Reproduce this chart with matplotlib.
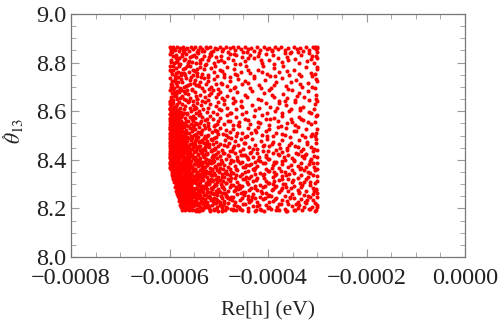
import matplotlib
matplotlib.use("Agg")
import matplotlib.pyplot as plt
from matplotlib.ticker import MultipleLocator, FixedLocator, FixedFormatter

# ---- data: points as (Re[h] in micro-eV, theta13 in thousandths of a degree above 8) ----
pts_top = [
    (-599,864),(-596,858),(-592,865),(-588,852),(-585,863),(-581,847),(-578,860),(-594,842),
    (-573,865),(-569,856),(-565,862),(-560,849),(-556,864),(-552,858),(-571,843),
    (-548,863),(-543,851),(-539,865),(-534,858),(-529,846),(-526,864),
    (-523,860),(-518,865),(-512,848),(-507,862),(-503,854),(-515,842),
    (-497,864),(-491,856),(-486,865),(-481,845),(-477,861),
    (-472,863),(-466,851),(-461,865),(-455,858),(-451,844),
    (-447,865),(-440,856),(-434,862),(-428,847),
    (-423,864),(-416,852),(-409,865),(-403,858),
    (-398,862),(-391,848),(-385,865),(-379,857),
    (-373,864),(-366,853),(-360,860),(-354,845),
    (-348,865),(-341,856),(-335,862),(-329,849),
    (-323,863),(-316,852),(-309,865),(-304,860),(-301,866),(-303,856),
]
pts_790_840 = [
    (-599,835),(-596,812),(-593,826),(-590,798),(-587,831),(-584,806),(-581,820),(-578,794),(-597,801),(-586,817),
    (-574,828),(-570,809),(-566,836),(-562,797),(-558,821),(-554,804),(-551,832),(-568,815),
    (-547,823),(-542,838),(-538,800),(-533,814),(-529,829),(-526,795),
    (-522,811),(-516,833),(-510,797),(-505,822),(-501,806),
    (-496,829),(-489,801),(-482,817),(-477,837),
    (-471,812),(-464,830),(-457,795),(-452,821),
    (-446,805),(-437,833),(-429,818),
    (-421,826),(-413,799),(-405,836),
    (-397,809),(-389,831),(-380,818),
    (-371,802),(-362,825),(-355,839),
    (-345,815),(-333,832),
    (-321,807),(-311,828),(-301,818),
]
pts_740_790 = [
    (-598,786),(-595,752),(-592,771),(-589,744),(-586,779),(-583,760),(-580,788),(-577,747),(-596,766),(-584,741),
    (-573,775),(-569,749),(-565,784),(-561,761),(-557,742),(-553,770),(-571,757),(-559,787),
    (-548,766),(-544,745),(-539,781),(-534,755),(-530,772),(-527,789),
    (-521,750),(-515,777),(-509,763),(-503,744),(-507,786),
    (-497,768),(-490,752),(-484,783),(-478,741),
    (-470,775),(-462,747),(-454,763),
    (-445,785),(-437,758),(-428,743),
    (-420,771),(-411,788),(-403,754),
    (-396,746),(-387,779),(-378,762),
    (-369,785),(-358,751),
    (-347,769),(-334,744),
    (-322,781),(-312,756),(-301,772),
]
pts_690_740 = [
    (-599,737),(-597,712),(-594,726),(-591,695),(-588,731),(-585,705),(-582,719),(-579,692),(-576,733),(-596,700),(-587,715),
    (-574,722),(-570,698),(-566,735),(-562,709),(-558,727),(-554,693),(-551,716),(-567,703),
    (-548,730),(-543,706),(-538,721),(-533,694),(-529,738),(-526,712),
    (-521,725),(-515,699),(-510,734),(-505,710),(-501,691),
    (-496,718),(-489,739),(-483,702),(-477,726),
    (-470,697),(-461,731),(-453,713),
    (-446,724),(-436,694),(-428,736),
    (-418,709),(-407,729),
    (-394,696),(-383,722),
    (-372,735),(-363,704),(-354,719),
    (-344,727),(-331,698),
    (-319,714),(-302,733),
]
pts_640_690 = [
    (-599,686),(-597,658),(-595,673),(-592,645),(-590,681),(-587,662),(-584,649),(-581,677),(-578,655),(-576,688),(-598,641),(-586,669),
    (-574,664),(-571,683),(-567,648),(-563,671),(-559,656),(-555,687),(-552,643),(-569,676),(-561,641),
    (-548,679),(-544,652),(-539,667),(-534,644),(-530,685),(-527,660),
    (-522,648),(-516,674),(-511,689),(-506,657),(-502,670),
    (-497,681),(-490,646),(-484,664),(-478,689),
    (-471,653),(-463,678),(-455,642),
    (-446,667),(-433,684),
    (-420,650),(-408,676),
    (-397,688),(-387,659),(-377,644),
    (-370,671),(-361,653),(-352,686),
    (-346,646),(-337,675),(-327,660),
    (-318,683),(-302,651),
]
pts_590_640 = [
    (-599,637),(-598,611),(-596,625),(-594,598),(-592,633),(-590,617),(-588,592),(-585,628),(-583,605),(-580,639),(-578,614),(-576,596),(-597,603),(-587,621),
    (-574,631),(-571,608),(-568,622),(-565,594),(-562,637),(-559,613),(-556,600),(-553,627),(-551,611),(-570,593),
    (-548,619),(-544,635),(-540,601),(-536,626),(-531,609),(-527,638),(-546,592),
    (-522,614),(-517,630),(-511,597),(-506,622),(-502,639),
    (-496,604),(-490,628),(-483,615),(-477,594),
    (-471,633),(-464,608),(-454,621),
    (-444,598),(-432,626),
    (-419,612),(-404,635),
    (-396,619),(-386,601),(-378,632),
    (-372,593),(-363,624),(-354,610),
    (-345,636),(-336,604),(-328,619),
    (-317,597),(-304,628),
]
pts_540_590 = [
    (-600,587),(-599,561),(-598,574),(-596,545),(-595,582),(-593,556),(-591,569),(-589,541),(-587,578),(-585,552),(-583,586),(-581,565),(-579,547),(-577,576),(-576,559),(-594,590),
    (-574,583),(-572,553),(-569,570),(-567,544),(-564,588),(-562,561),(-559,575),(-557,548),(-554,566),(-552,581),(-551,542),(-566,558),
    (-548,571),(-545,546),(-541,584),(-537,559),(-533,575),(-530,542),(-527,564),(-539,589),
    (-522,552),(-517,579),(-512,566),(-508,543),(-504,587),(-501,560),
    (-497,572),(-490,549),(-484,583),(-478,561),
    (-472,544),(-465,576),(-458,557),(-452,588),
    (-446,566),(-437,547),(-428,580),
    (-421,555),(-412,585),(-404,569),
    (-397,543),(-388,574),(-379,560),
    (-371,582),(-362,551),(-354,568),
    (-346,545),(-338,577),(-329,562),
    (-318,554),(-303,580),
]
pts_490_540 = [
    (-600,536),(-599,512),(-598,525),(-597,494),(-596,531),(-594,505),(-593,519),(-591,539),(-590,498),(-588,527),(-586,509),(-585,534),(-583,491),(-581,516),(-579,528),(-578,502),(-576,537),(-592,513),
    (-574,520),(-573,495),(-571,533),(-569,507),(-567,524),(-565,492),(-563,538),(-561,511),(-559,529),(-557,499),(-555,517),(-553,535),(-551,504),(-568,514),
    (-549,526),(-546,497),(-543,514),(-540,537),(-536,505),(-533,522),(-530,491),(-527,531),(-538,510),
    (-523,500),(-519,527),(-514,513),(-510,538),(-506,495),(-503,520),(-501,508),
    (-497,532),(-492,506),(-486,521),(-481,493),(-477,515),
    (-471,526),(-465,499),(-458,539),(-453,512),
    (-447,494),(-441,530),(-434,509),(-427,522),
    (-420,537),(-413,503),(-405,518),
    (-397,525),(-389,497),(-380,534),
    (-372,508),(-364,529),(-355,492),
    (-347,518),(-339,536),(-330,501),
    (-322,527),(-313,496),(-302,512),
]
pts_440_490 = [
    (-600,487),(-599,461),(-598,474),(-597,445),(-596,482),(-595,456),(-594,469),(-592,441),(-591,478),(-589,452),(-588,485),(-586,464),(-585,447),(-583,476),(-581,458),(-580,489),(-578,443),(-577,467),(-576,480),(-590,466),
    (-574,471),(-572,448),(-570,484),(-568,459),(-566,442),(-564,476),(-562,488),(-561,453),(-559,466),(-557,480),(-555,445),(-553,471),(-552,458),(-567,490),(-558,440),
    (-549,463),(-547,486),(-544,449),(-541,474),(-538,457),(-535,482),(-532,443),(-530,468),(-528,490),(-526,455),(-539,441),
    (-523,478),(-519,451),(-515,486),(-512,463),(-508,444),(-505,472),(-502,457),(-510,489),
    (-498,466),(-493,441),(-488,480),(-483,455),(-479,471),(-476,488),
    (-472,447),(-466,476),(-460,460),(-455,485),(-451,443),
    (-446,469),(-439,452),(-432,484),(-427,461),
    (-422,446),(-415,478),(-409,462),(-402,487),
    (-397,455),(-390,474),(-384,442),(-377,466),
    (-371,483),(-362,449),(-353,470),
    (-346,458),(-337,481),(-328,444),
    (-321,472),(-312,452),(-302,486),
]
pts_390_440 = [
    (-600,437),(-599,412),(-598,425),(-597,394),(-596,431),(-595,406),(-594,419),(-592,391),(-591,428),(-589,401),(-588,436),(-586,414),(-585,397),(-583,426),(-581,408),(-580,439),(-578,393),(-577,417),(-576,430),(-590,415),
    (-574,421),(-573,398),(-571,434),(-569,409),(-567,392),(-565,426),(-563,438),(-562,403),(-560,416),(-558,430),(-556,395),(-554,421),(-552,408),(-568,440),(-559,390),(-551,433),
    (-549,413),(-547,436),(-545,399),(-542,424),(-539,407),(-536,432),(-533,393),(-531,418),(-528,440),(-526,405),(-540,391),(-535,427),
    (-523,428),(-520,401),(-516,436),(-513,413),(-509,394),(-506,422),(-503,407),(-511,439),(-501,431),
    (-498,416),(-494,391),(-489,430),(-485,405),(-481,421),(-478,438),(-476,398),
    (-472,397),(-467,426),(-462,410),(-457,435),(-453,393),(-451,419),
    (-447,419),(-441,402),(-435,434),(-430,411),(-426,391),
    (-422,426),(-417,396),(-411,438),(-405,412),(-401,403),
    (-397,405),(-390,429),(-383,392),(-377,418),
    (-372,433),(-366,399),(-359,420),(-352,409),
    (-347,394),(-340,425),(-333,438),(-327,407),
    (-322,422),(-315,397),(-308,436),(-301,412),
]
pts_340_390 = [
    (-599,387),(-598,372),(-597,380),(-596,364),(-595,385),(-594,352),(-593,370),(-591,346),(-590,378),(-588,358),(-587,389),(-585,342),(-584,366),(-582,381),(-580,350),(-579,374),(-577,361),(-576,388),
    (-574,371),(-573,348),(-571,384),(-569,359),(-567,342),(-565,376),(-563,388),(-562,353),(-560,366),(-558,380),(-556,345),(-554,371),(-552,358),(-568,390),(-559,340),(-551,383),
    (-549,363),(-547,386),(-545,349),(-542,374),(-539,357),(-536,382),(-533,343),(-531,368),(-528,390),(-526,355),(-540,341),(-535,377),
    (-523,378),(-520,351),(-516,386),(-513,363),(-509,344),(-506,372),(-503,357),(-511,389),(-501,381),(-518,366),
    (-498,366),(-494,341),(-489,380),(-485,355),(-481,371),(-478,388),(-476,348),(-491,362),
    (-472,347),(-467,376),(-462,360),(-457,385),(-453,343),(-451,369),
    (-447,369),(-441,352),(-435,384),(-430,361),(-426,341),(-438,377),
    (-422,376),(-417,346),(-411,388),(-405,362),(-401,353),
    (-397,355),(-390,379),(-383,342),(-377,368),(-386,387),
    (-372,383),(-366,349),(-359,370),(-352,359),
    (-347,344),(-340,375),(-333,388),(-327,357),
    (-322,372),(-315,347),(-308,386),(-301,362),
]
pts_290_340 = [
    (-595,337),(-593,322),(-592,331),(-590,309),(-589,326),(-587,296),(-586,318),(-584,335),(-582,303),(-580,314),(-578,328),(-576,292),
    (-574,321),(-573,298),(-571,334),(-569,309),(-567,292),(-565,326),(-563,338),(-562,303),(-560,316),(-558,330),(-556,295),(-554,321),(-552,308),(-568,340),(-559,290),(-551,333),
    (-549,313),(-547,336),(-545,299),(-542,324),(-539,307),(-536,332),(-533,293),(-531,318),(-528,340),(-526,305),(-540,291),(-535,327),(-544,315),
    (-523,328),(-520,301),(-516,336),(-513,313),(-509,294),(-506,322),(-503,307),(-511,339),(-501,331),(-518,316),
    (-498,316),(-494,291),(-489,330),(-485,305),(-481,321),(-478,338),(-476,298),(-491,312),
    (-472,297),(-467,326),(-462,310),(-457,335),(-453,293),(-451,319),(-464,339),
    (-447,319),(-441,302),(-435,334),(-430,311),(-426,291),(-438,327),
    (-422,326),(-417,296),(-411,338),(-405,312),(-401,303),
    (-397,305),(-390,329),(-383,292),(-377,318),(-386,337),
    (-372,333),(-366,299),(-359,320),(-352,309),(-363,339),
    (-347,294),(-340,325),(-333,338),(-327,307),
    (-322,322),(-315,297),(-308,336),(-301,312),
]
pts_240_290 = [
    (-588,287),(-586,271),(-584,259),(-582,280),(-580,248),(-577,266),
    (-574,284),(-572,254),(-570,271),(-568,243),(-566,289),(-564,262),(-562,276),(-560,249),(-558,267),(-556,282),(-554,245),(-553,259),(-551,274),(-567,257),(-561,288),
    (-549,263),(-547,286),(-545,249),(-542,274),(-539,257),(-536,282),(-533,243),(-531,268),(-528,290),(-526,255),(-540,241),(-535,277),(-544,265),
    (-523,278),(-520,251),(-516,286),(-513,263),(-509,244),(-506,272),(-503,257),(-511,289),(-501,281),(-518,266),
    (-498,266),(-494,241),(-489,280),(-485,255),(-481,271),(-478,288),(-476,248),(-491,262),
    (-472,247),(-467,276),(-462,260),(-457,285),(-453,243),(-451,269),(-464,289),
    (-447,269),(-441,252),(-435,284),(-430,261),(-426,241),(-438,277),
    (-422,276),(-417,246),(-411,288),(-405,262),(-401,253),(-414,270),
    (-397,255),(-390,279),(-383,242),(-377,268),(-386,287),
    (-372,283),(-366,249),(-359,270),(-352,259),(-363,289),
    (-347,244),(-340,275),(-333,288),(-327,257),(-337,262),
    (-322,272),(-315,247),(-308,286),(-301,262),(-303,279),
]
pts_190_240 = [
    (-581,231),(-578,214),
    (-574,236),(-572,204),(-570,221),(-568,193),(-566,239),(-564,212),(-562,226),(-560,199),(-558,217),(-556,232),(-554,195),(-553,209),(-551,224),
    (-549,213),(-547,236),(-545,199),(-542,224),(-539,207),(-536,232),(-533,193),(-531,218),(-528,240),(-526,205),(-540,191),(-535,227),(-544,215),
    (-523,228),(-520,201),(-516,236),(-513,213),(-509,194),(-506,222),(-503,207),(-511,239),(-501,231),(-518,191),
    (-498,216),(-494,191),(-489,230),(-485,205),(-481,221),(-478,238),(-476,198),(-491,212),
    (-472,197),(-467,226),(-462,210),(-457,235),(-453,193),(-451,219),(-464,192),
    (-447,219),(-441,202),(-435,234),(-430,211),(-426,191),(-438,227),
    (-422,226),(-417,196),(-411,238),(-405,212),(-401,203),(-414,192),
    (-397,205),(-390,229),(-383,192),(-377,218),(-386,237),
    (-372,233),(-366,199),(-359,220),(-352,209),(-363,191),
    (-347,194),(-340,225),(-333,238),(-327,207),(-337,212),
    (-322,222),(-315,197),(-308,236),(-301,212),(-303,193),
]
pts_dense_core = [
    (-577,204),(-575,216),(-572,209),(-569,201),(-566,218),(-563,206),(-560,213),(-557,202),(-555,219),(-553,208),
    (-579,233),(-576,224),(-573,238),(-571,227),(-568,221),(-565,235),(-562,229),(-559,223),(-556,239),(-553,231),
    (-582,252),(-580,243),(-577,258),(-574,247),(-571,255),(-569,241),(-566,250),(-563,259),(-560,244),(-557,253),(-554,246),
    (-584,268),(-581,277),(-579,262),(-576,272),(-573,265),(-571,279),(-568,261),(-565,274),(-562,267),(-559,278),(-556,263),(-553,271),
    (-587,291),(-585,283),(-582,298),(-579,286),(-577,294),(-574,281),(-571,289),(-568,297),(-565,284),(-562,292),(-559,288),(-556,299),(-553,282),
    (-589,311),(-587,303),(-584,318),(-581,307),(-578,314),(-576,301),(-573,309),(-570,317),(-567,304),(-564,312),(-561,319),(-558,306),(-555,315),
    (-592,328),(-590,336),(-588,322),(-585,331),(-582,339),(-580,325),(-577,333),(-574,321),(-571,329),(-568,337),(-565,324),(-562,332),(-559,327),(-556,338),
    (-595,347),(-593,355),(-591,342),(-588,351),(-586,359),(-583,345),(-580,353),(-578,341),(-575,349),(-572,357),(-569,344),(-566,352),(-563,347),(-560,358),(-557,343),
    (-598,368),(-596,375),(-594,362),(-591,371),(-589,379),(-586,365),(-583,373),(-581,361),(-578,369),(-575,377),(-572,364),(-569,372),(-566,367),(-563,378),(-560,363),(-557,371),
    (-600,392),(-598,384),(-596,398),(-593,387),(-591,395),(-588,381),(-585,390),(-583,399),(-580,385),(-577,393),(-574,382),(-571,391),(-568,397),(-565,386),(-562,394),(-559,383),
    (-600,409),(-598,417),(-595,403),(-593,412),(-590,419),(-587,406),(-585,414),(-582,401),(-579,410),(-576,418),(-573,405),(-570,413),(-567,402),(-564,416),(-561,408),
    (-599,427),(-597,435),(-595,422),(-592,431),(-589,439),(-587,425),(-584,433),(-581,421),(-578,429),(-575,437),(-572,424),(-569,432),(-566,428),(-563,436),(-560,423),
    (-600,448),(-598,456),(-595,443),(-593,452),(-590,459),(-587,446),(-584,454),(-582,441),(-579,450),(-576,458),(-573,445),(-570,453),(-567,449),(-564,457),
    (-599,468),(-597,476),(-594,462),(-592,471),(-589,479),(-586,465),(-583,473),(-581,461),(-578,470),(-575,478),(-572,464),(-569,472),(-566,467),
    (-600,488),(-598,496),(-595,482),(-593,491),(-590,499),(-587,485),(-584,493),(-581,481),(-578,490),(-575,497),(-572,484),(-569,492),
    (-599,507),(-597,515),(-594,502),(-592,511),(-589,519),(-586,505),(-583,513),(-580,501),(-577,509),(-574,517),(-571,504),
    (-600,528),(-598,536),(-595,522),(-592,531),(-589,539),(-586,525),(-583,533),(-580,521),(-577,529),(-573,537),
    (-599,547),(-596,555),(-594,542),(-591,551),(-588,559),(-585,545),(-581,553),(-578,541),(-575,549),
    (-600,568),(-597,575),(-595,562),(-592,571),(-589,579),(-585,565),(-582,573),(-578,561),
    (-599,588),(-597,596),(-594,582),(-591,591),(-587,599),(-584,585),(-580,593),
    (-600,608),(-598,615),(-595,602),(-592,611),(-588,619),(-584,605),
]
pts_mid = [
    (-548,195),(-541,220),(-534,201),(-527,226),(-519,208),(-512,229),(-505,198),(-497,215),(-490,224),(-483,203),
    (-549,248),(-543,262),(-537,239),(-530,255),(-524,268),(-517,243),(-510,259),(-503,236),(-496,251),(-488,264),(-481,241),
    (-547,283),(-540,300),(-533,276),(-526,292),(-520,306),(-513,281),(-506,297),(-499,273),(-492,289),(-485,303),
    (-549,322),(-542,341),(-536,315),(-529,333),(-522,347),(-515,319),(-508,336),(-501,312),(-494,328),(-487,345),
    (-548,361),(-541,379),(-535,354),(-528,372),(-521,386),(-514,358),(-507,375),(-500,351),
    (-549,399),(-543,418),(-536,392),(-530,411),(-523,425),(-516,396),(-509,414),
    (-548,438),(-541,457),(-534,433),(-527,451),(-520,466),(-513,442),
    (-549,477),(-542,495),(-535,472),(-528,489),(-521,504),
]
pts_upper_left = [
    (-597,648),(-591,663),(-585,682),(-579,697),(-594,709),(-588,724),(-582,741),(-576,756),
    (-598,771),(-592,788),(-586,803),(-580,819),(-574,834),(-596,847),(-590,857),(-570,652),
    (-564,689),(-558,713),(-553,748),(-568,779),(-561,806),(-555,826),(-572,851),(-546,664),
    (-541,702),(-537,739),(-544,773),(-538,812),(-533,849),(-599,628),(-593,693),(-587,757),(-581,794),
]
pts_fill_a = [
    (-546,228),(-528,211),(-509,224),(-493,203),(-474,233),(-458,206),(-437,229),(-419,215),(-398,227),(-381,204),(-362,231),(-344,217),(-324,226),(-310,205),
    (-550,259),(-537,271),(-521,247),(-504,266),(-486,252),(-469,272),(-449,256),(-432,247),(-412,263),(-393,251),(-374,274),(-356,246),(-338,268),(-319,253),(-306,270),
    (-546,304),(-530,292),(-512,317),(-496,299),(-478,312),(-459,296),(-443,309),(-424,316),(-407,294),(-388,313),(-370,301),(-349,318),(-331,295),(-314,308),
    (-550,352),(-532,366),(-518,344),(-499,359),(-483,341),(-464,364),(-446,349),(-428,356),(-409,343),(-391,368),(-374,354),(-357,340),(-336,362),(-318,349),(-306,369),
    (-546,404),(-529,392),(-511,418),(-495,401),(-479,414),(-460,395),(-442,411),(-421,399),(-404,419),(-387,393),(-368,412),(-348,398),(-331,417),(-313,402),
    (-544,452),(-525,466),(-507,447),(-490,461),(-469,455),(-449,468),(-430,445),(-411,458),(-392,466),(-375,450),(-358,462),(-339,452),(-320,467),(-307,446),
    (-547,506),(-526,493),(-506,517),(-485,502),(-462,510),(-443,497),(-424,514),(-402,496),(-384,512),(-365,501),(-343,517),(-324,492),(-310,508),
    (-546,553),(-524,567),(-503,548),(-481,561),(-461,545),(-440,564),(-417,552),(-395,566),(-374,541),(-351,557),(-332,569),(-312,546),
    (-547,612),(-523,598),(-499,607),(-475,594),(-452,618),(-427,603),(-403,592),(-382,615),(-357,600),(-336,612),(-313,591),
    (-545,651),(-520,666),(-494,656),(-468,641),(-443,660),(-415,647),(-392,668),(-365,641),(-341,661),(-316,647),
    (-546,707),(-519,692),(-493,711),(-467,700),(-441,715),(-414,696),(-388,709),(-360,693),(-336,713),(-311,701),
    (-545,758),(-521,742),(-494,764),(-466,755),(-440,771),(-413,762),(-386,744),(-361,767),(-337,755),(-310,745),
    (-546,797),(-520,821),(-495,809),(-468,793),(-440,818),(-415,811),(-387,796),(-360,812),(-338,798),(-312,815),
    (-544,843),(-518,836),(-493,848),(-469,835),(-443,845),(-418,838),(-392,851),(-366,839),(-340,843),(-317,838),
]
pts_fill_b = [
    (-497,226),(-484,246),(-470,214),(-455,263),(-440,238),(-423,208),(-407,244),(-392,274),(-373,219),(-355,241),(-340,201),(-321,236),(-309,259),
    (-494,287),(-476,325),(-461,281),(-444,331),(-427,284),(-409,327),(-389,300),(-371,321),(-354,283),(-335,306),(-318,330),
    (-497,384),(-478,361),(-463,401),(-445,377),(-426,366),(-407,387),(-388,351),(-371,395),(-353,377),(-334,365),(-317,384),
    (-492,426),(-473,437),(-455,418),(-436,428),(-418,412),(-399,436),(-380,422),(-362,440),(-343,429),(-325,419),
]
pts_fill_c = [
    (-566,198),(-552,212),(-538,205),(-524,219),(-510,196),(-562,230),(-547,244),(-533,228),(-519,252),(-506,238),
    (-569,261),(-555,276),(-541,258),(-527,283),(-513,265),(-565,297),(-550,310),(-536,293),(-522,318),(-508,301),
    (-570,326),(-556,344),(-542,330),(-528,352),(-514,337),(-563,362),(-549,381),(-535,366),(-521,388),(-507,371),
    (-568,398),(-554,415),(-540,401),(-526,424),(-512,408),(-566,437),(-551,452),(-537,440),(-523,461),(-509,446),
    (-569,474),(-555,489),(-541,478),(-527,497),(-513,483),(-565,512),(-550,528),(-536,516),(-522,540),(-508,523),
    (-568,548),(-553,561),(-539,552),
]
pts_bottom_edge = [
    (-575,192),(-561,195),(-547,191),(-531,196),(-517,193),(-502,190),(-488,195),(-471,192),(-456,196),(-440,190),
    (-425,194),(-409,191),(-394,196),(-378,193),(-361,190),(-346,195),(-331,192),(-316,196),(-305,191),
]
pts_right_edge = [
    (-300,845),(-303,826),(-306,800),(-301,781),(-304,752),(-300,725),(-305,697),(-302,668),(-300,640),(-306,611),
    (-301,585),(-304,555),(-300,527),(-305,498),(-302,470),(-300,441),(-306,415),(-301,388),(-304,360),(-300,332),
    (-305,305),(-302,277),(-300,248),(-304,222),(-301,205),(-305,864),(-300,861),
]

x_ticks = [-0.0008, -0.0006, -0.0004, -0.0002, 0.0]
x_tick_labels = ["\u22120.0008", "\u22120.0006", "\u22120.0004", "\u22120.0002", "0.0000"]
y_ticks = [8.0, 8.2, 8.4, 8.6, 8.8, 9.0]
y_tick_labels = ["8.0", "8.2", "8.4", "8.6", "8.8", "9.0"]

bands = [pts_top, pts_790_840, pts_740_790, pts_690_740, pts_640_690, pts_590_640,
         pts_540_590, pts_490_540, pts_440_490, pts_390_440, pts_340_390,
         pts_290_340, pts_240_290, pts_190_240, pts_dense_core, pts_mid,
         pts_upper_left, pts_fill_a, pts_fill_b, pts_fill_c, pts_bottom_edge, pts_right_edge]
xs = [p[0] * 1e-6 for b in bands for p in b]
ys = [8.0 + p[1] / 1000.0 for b in bands for p in b]

plt.rcParams['font.family'] = ['Liberation Serif', 'DejaVu Serif']
plt.rcParams['mathtext.fontset'] = 'stix'

W, H = 498, 325
fig = plt.figure(figsize=(W / 100, H / 100), dpi=100)
ax = fig.add_axes([71/W, 1 - 257/H, 394/W, 243/H])

ax.scatter(xs, ys, s=8.5, c='#ff0000', linewidths=0, zorder=3)

ax.set_xlim(-0.0008, 0.0)
ax.set_ylim(8.0, 9.0)
ax.xaxis.set_major_locator(FixedLocator(x_ticks))
ax.xaxis.set_major_formatter(FixedFormatter(x_tick_labels))
ax.yaxis.set_major_locator(FixedLocator(y_ticks))
ax.yaxis.set_major_formatter(FixedFormatter(y_tick_labels))
ax.xaxis.set_minor_locator(MultipleLocator(0.00005))
ax.yaxis.set_minor_locator(MultipleLocator(0.05))

ax.tick_params(which='both', direction='in', top=True, right=True, color='#999999',
               labelsize=17.5, labelcolor='#222222')
ax.tick_params(which='major', length=6, width=0.8)
ax.tick_params(which='minor', length=3.5, width=0.6)
ax.tick_params(axis='x', which='major', pad=8)
ax.tick_params(axis='y', which='major', pad=3.5)
for s in ax.spines.values():
    s.set_color('#777777')
    s.set_linewidth(0.9)

ax.set_xlabel('Re[h] (eV)', fontsize=15.5, color='#222222')
ax.xaxis.set_label_coords(0.5, -0.18)

# y label: theta_13 with a small ring accent above the theta
ax.set_ylabel(r'$\theta_{13}$', fontsize=15.5, color='#222222', va='center', ha='center')
ax.yaxis.set_label_coords((14 - 71) / 394, (257 - 131) / 243)
fig.text(3.5 / W, 1 - 136.5 / H, r'$\circ$', fontsize=7.5, color='#222222',
         ha='center', va='center', rotation=90)

fig.savefig('out.png', dpi=100)
